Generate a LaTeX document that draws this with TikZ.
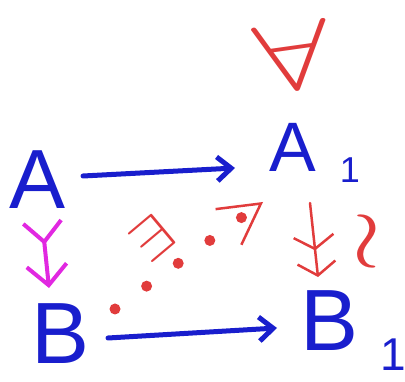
\documentclass[tikz,border=0pt]{standalone}
\usepackage{fontspec}
\setmainfont{Liberation Sans}
\usepackage{graphicx}
\usetikzlibrary{arrows.meta,calc}
\definecolor{pblue}{RGB}{25,30,205}
\definecolor{pred}{RGB}{225,60,60}
\definecolor{pmag}{RGB}{225,40,225}
\tikzset{
  letter/.style={inner sep=0pt, text=pblue},
  subs/.style={inner sep=0pt, text=pblue},
  bluearr/.style={draw=pblue, line width=5pt, line cap=round,
    -{Straight Barb[length=14pt,width=24pt]}},
  magarr/.style={draw=pmag, line width=4pt, line cap=round,
    {Straight Barb[reversed,length=20pt,width=38pt]}-{Straight Barb[length=20pt,width=40pt]}},
  epiarr/.style={draw=pred, line width=2.5pt, line cap=round,
    -{Straight Barb[length=13pt,width=40pt,sep=11pt] Straight Barb[length=13pt,width=38pt]}},
  dotarr/.style={draw=pred, line width=11pt, line cap=round,
    dash pattern=on 0pt off 39pt,
    -{Straight Barb[length=40pt,width=44pt,line width=2.5pt]}},
  redsym/.style={inner sep=0pt, text=pred}
}
\begin{document}
\begin{tikzpicture}[x=1pt,y=-1pt]
\useasboundingbox (0,0) rectangle (405,382);
\node[letter, font=\fontsize{84}{84}\selectfont] (A) at (38,180) {A};
\node[letter, font=\fontsize{70}{70}\selectfont] (A1) at (293,147) {A};
\node[subs, font=\fontsize{36}{36}\selectfont] (A1s) at (350,170) {1};
\node[letter, font=\fontsize{87}{87}\selectfont] (B) at (61,334) {B};
\node[letter, font=\fontsize{87}{87}\selectfont] (B1) at (330,321) {B};
\node[subs, font=\fontsize{46}{46}\selectfont] (B1s) at (393,355) {1};
\node[redsym, rotate=8] (fa) at (293,56) {\scalebox{13.5}[9.6]{$\forall$}};
\node[redsym, rotate=40] (ex) at (152,238) {\scalebox{7}[5.5]{$\exists$}};
\node[redsym] (wr) at (367,242) {\scalebox{11}[8]{$\wr$}};
\draw[bluearr] ($(A)+(45,-4)$) -- ($(A1)+(-58,21)$);
\draw[bluearr] ($(B)+(47,4)$) -- ($(B1)+(-53,7)$);
\draw[magarr] ($(A)+(4,40)$) -- ($(B)+(-12,-46)$);
\draw[epiarr] ($(A1)+(17,56)$) -- ($(B1)+(-12,-44)$);
\draw[dotarr] ($(B)+(54,-25)$) -- ($(A1)+(-30,55)$);
\fill[pred] ($(A1)+(-50,70)$) circle (3.5);
\end{tikzpicture}
\end{document}
